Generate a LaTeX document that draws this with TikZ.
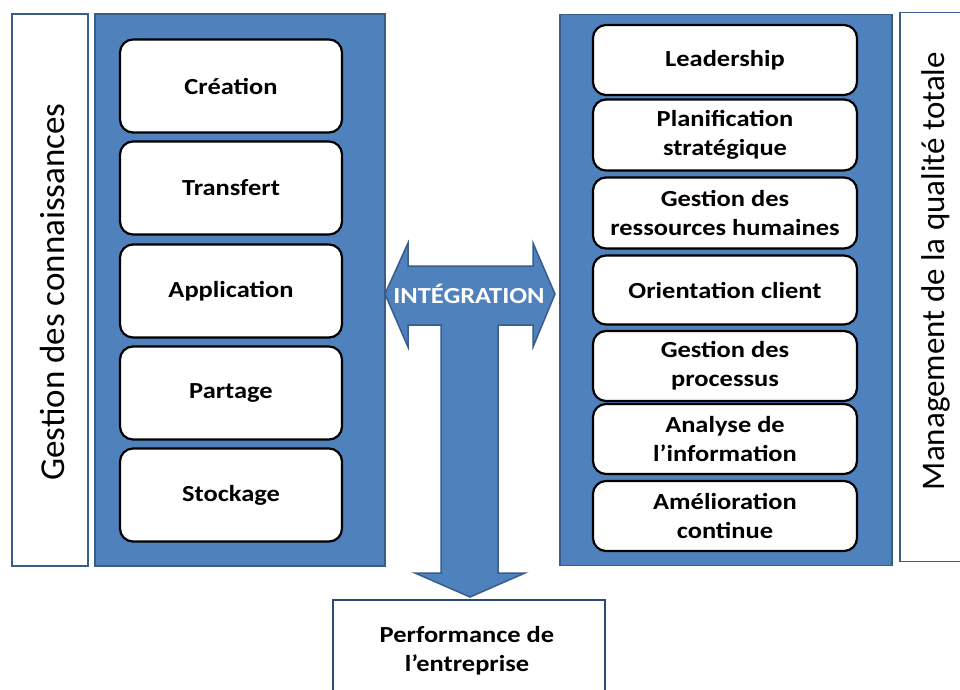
\documentclass[tikz,border=0pt]{standalone}
\usepackage{fontspec}
\setmainfont{Carlito}
\newfontfamily\boxfont[FakeStretch=1.15]{Carlito}
\usepackage{tikz}
\usetikzlibrary{positioning}

\definecolor{panelblue}{HTML}{4F81BD}
\definecolor{edgeblue}{HTML}{385D8A}
\definecolor{darkedge}{HTML}{2C4A74}

\tikzset{
    panel/.style={draw=edgeblue, line width=1.5pt, fill=panelblue, minimum width=#1},
    item/.style={draw=black, line width=2.2pt, fill=white, rounded corners=13pt,
        align=center, font=\boxfont\fontsize{23}{29}\selectfont\bfseries, inner sep=0pt},
    sidebox/.style={draw=edgeblue, line width=1.5pt, fill=white},
    sidetext/.style={font=\fontsize{#1}{40}\selectfont, rotate=90}
}

\begin{document}
\begin{tikzpicture}[x=1pt, y=-1pt]
        \clip (0,0) rectangle (960,689);
        \fill[white] (0,0) rectangle (960,689);

        % side labels
        \node[sidebox, minimum width=76, minimum height=552] (kmbox) at (50,290) {};
        \node[sidetext=35] (kmlabel) at (52,292) {Gestion des connaissances};
        \node[sidebox, minimum width=90, minimum height=549] (mqbox) at (945,287) {};
        \node[sidetext=33] (mqlabel) at (936,271) {Management de la qualité totale};

        % left panel
        \node[panel=290, minimum height=552] (kmpanel) at (240,290) {};
        \node[item, minimum width=222, minimum height=93] (creation) at (231,86) {Création};
        \node[item, minimum width=222, minimum height=93] (transfert) at (231,188) {Transfert};
        \node[item, minimum width=222, minimum height=93] (application) at (231,291) {Application};
        \node[item, minimum width=222, minimum height=93] (partage) at (231,393) {Partage};
        \node[item, minimum width=222, minimum height=93] (stockage) at (231,495) {Stockage};

        % right panel
        \node[panel=332, minimum height=551] (mqpanel) at (726,290) {};
        \node[item, minimum width=264, minimum height=70] (leadership) at (725,60) {Leadership};
        \node[item, minimum width=264, minimum height=71] (planif) at (725,135) {Planification\\stratégique};
        \node[item, minimum width=264, minimum height=71] (grh) at (725,213) {Gestion des\\ressources humaines};
        \node[item, minimum width=264, minimum height=69] (client) at (725,290) {Orientation client};
        \node[item, minimum width=264, minimum height=70] (processus) at (725,366) {Gestion des\\processus};
        \node[item, minimum width=264, minimum height=70] (analyse) at (725,439) {Analyse de\\l’information};
        \node[item, minimum width=264, minimum height=70] (amelioration) at (725,516) {Amélioration\\continue};

        % T arrow
        \coordinate (L) at (385,294);
        \coordinate (R) at (555,294);
        \coordinate (D) at (470,597);
        \draw[draw=edgeblue, line width=1.5pt, fill=panelblue, line join=miter]
            (L) -- (408,243) -- (408,266) -- (533,266) -- (533,243) -- (R)
            -- (533,347) -- (533,325) -- (498,325) -- (498,573) -- (525,573)
            -- (D) -- (415,573) -- (441,573) -- (441,325) -- (408,325)
            -- (408,347) -- cycle;
        \node[text=white, font=\boxfont\fontsize{23}{26}\selectfont\bfseries] (integration) at (469,294) {INTÉGRATION};

        % result
        \draw[draw=darkedge, line width=1.8pt, fill=white] (333,600) rectangle (605,720);
        \node[align=center, font=\boxfont\fontsize{23}{29}\selectfont\bfseries] (perf) at (467,651) {Performance de\\l’entreprise};
    \end{tikzpicture}
\end{document}
